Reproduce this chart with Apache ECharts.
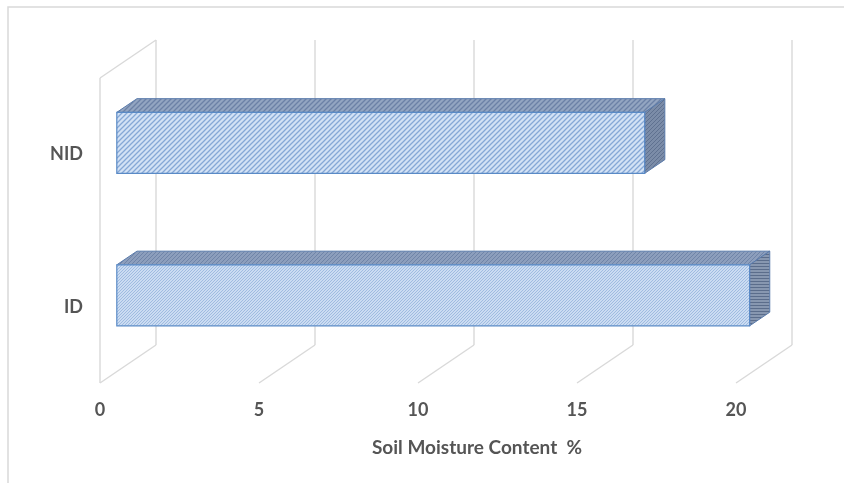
<!DOCTYPE html>
<html>
<head>
<meta charset="utf-8">
<script src="https://cdn.jsdelivr.net/npm/echarts@6/dist/echarts.min.js"></script>
<style>
  html, body { margin: 0; padding: 0; background: #fff; }
  #chart { width: 844px; height: 483px; }
</style>
</head>
<body>
<div id="chart"></div>
<script>
// data
const categories = ['ID', 'NID']
const moisture = [19.9, 16.6]
const xTicks = [0, 5, 10, 15, 20]

// 3d look: full depth offset of the box, and where the bar sits inside it
const DEPTH = [56, -38]
const BAR_FRONT = 0.3
const BAR_BACK = 0.66

const makePattern = (size, bg, fg, lineW, draw) => {
  const c = document.createElement('canvas')
  c.width = size
  c.height = size
  const ctx = c.getContext('2d')
  ctx.fillStyle = bg
  ctx.fillRect(0, 0, size, size)
  ctx.strokeStyle = fg
  ctx.lineWidth = lineW
  draw(ctx, size)
  return { image: c, repeat: 'repeat' }
}
const diag = (ctx, s) => {
  ctx.beginPath()
  ctx.moveTo(0, s); ctx.lineTo(s, 0)
  ctx.moveTo(-s / 2, s / 2); ctx.lineTo(s / 2, -s / 2)
  ctx.moveTo(s / 2, s * 1.5); ctx.lineTo(s * 1.5, s / 2)
  ctx.stroke()
}
const horiz = (ctx, s) => {
  ctx.beginPath()
  ctx.moveTo(0, s - 0.5); ctx.lineTo(s, s - 0.5)
  ctx.stroke()
}

// per category: front, top, side fills
const fills = [
  {
    front: makePattern(3, '#cbdcf2', '#9fbbe0', 1, diag),
    top: makePattern(4, '#8c9ebc', '#6f84a8', 1, diag),
    side: makePattern(3, '#8797b0', '#5b6d8b', 1, horiz)
  },
  {
    front: makePattern(5, '#d3e2f5', '#86a8d6', 1.3, diag),
    top: makePattern(5, '#93a5c1', '#6c81a6', 1.3, diag),
    side: makePattern(4, '#7b8ca8', '#5f7190', 1, diag)
  }
]

const chart = echarts.init(document.getElementById('chart'))

const frameItem = (params, api) => {
  const v = api.value(0)
  const cs = params.coordSys
  const bottom = cs.y + cs.height
  const top = cs.y
  const x = api.coord([v, 0])[0]
  const bx = x + DEPTH[0], dy = DEPTH[1]
  const lineStyle = { stroke: '#d9d9d9', lineWidth: 1.4, fill: null }
  const children = [
    { type: 'line', shape: { x1: bx, y1: top + dy, x2: bx, y2: bottom + dy }, style: lineStyle },
    { type: 'line', shape: { x1: bx, y1: bottom + dy, x2: x, y2: bottom }, style: lineStyle }
  ]
  if (v === 0) {
    children.push(
      { type: 'line', shape: { x1: x, y1: top, x2: x, y2: bottom }, style: lineStyle },
      { type: 'line', shape: { x1: x, y1: top, x2: bx, y2: top + dy }, style: lineStyle }
    )
  }
  return { type: 'group', children }
}

const barItem = (params, api) => {
  const ci = api.value(1)
  const p0 = api.coord([0, ci])
  const p1 = api.coord([api.value(0), ci])
  const h = api.size([0, 1])[1] * 0.4
  const fx = DEPTH[0] * BAR_FRONT, fy = DEPTH[1] * BAR_FRONT
  const bx = DEPTH[0] * BAR_BACK, by = DEPTH[1] * BAR_BACK
  const l = p0[0] + fx, r = p1[0] + fx
  const t = p0[1] + fy - h / 2, b = p0[1] + fy + h / 2
  const dx = bx - fx, dy = by - fy
  const f = fills[ci]
  return {
    type: 'group',
    children: [
      {
        type: 'polygon',
        shape: { points: [[l, t], [r, t], [r + dx, t + dy], [l + dx, t + dy]] },
        style: { fill: f.top, stroke: '#5a7bab', lineWidth: 1 }
      },
      {
        type: 'polygon',
        shape: { points: [[r, t], [r + dx, t + dy], [r + dx, b + dy], [r, b]] },
        style: { fill: f.side, stroke: '#5a7bab', lineWidth: 1 }
      },
      {
        type: 'rect',
        shape: { x: l, y: t, width: r - l, height: b - t },
        style: { fill: f.front, stroke: '#5a8ac6', lineWidth: 1.2 }
      }
    ]
  }
}

const textStyle = { fontFamily: 'Lato', fontSize: 18, color: '#555555', fontWeight: 'bold' }

chart.setOption({
  animation: false,
  backgroundColor: '#fff',
  graphic: [{
    type: 'rect',
    shape: { x: 8, y: 7, width: 900, height: 600 },
    style: { fill: null, stroke: '#d9d9d9', lineWidth: 1.5 },
    silent: true
  }],
  grid: { left: 100, right: 108, top: 78, bottom: 100 },
  xAxis: {
    type: 'value',
    min: 0,
    max: 20,
    interval: 5,
    axisLine: { show: false },
    axisTick: { show: false },
    splitLine: { show: false },
    axisLabel: Object.assign({ margin: 18, customValues: xTicks }, textStyle),
    name: 'Soil Moisture Content  %',
    nameLocation: 'middle',
    nameGap: 55,
    nameTextStyle: Object.assign({ padding: [0, 0, 0, 118] }, textStyle, { fontSize: 19 })
  },
  yAxis: {
    type: 'category',
    data: categories,
    axisLine: { show: false },
    axisTick: { show: false },
    splitLine: { show: false },
    axisLabel: Object.assign({ margin: 17 }, textStyle)
  },
  series: [
    {
      type: 'custom',
      renderItem: frameItem,
      data: xTicks.map(v => [v, 0]),
      silent: true,
      z: 1
    },
    {
      type: 'custom',
      renderItem: barItem,
      data: moisture.map((v, i) => [v, i]),
      z: 2
    }
  ]
})
</script>
</body>
</html>
